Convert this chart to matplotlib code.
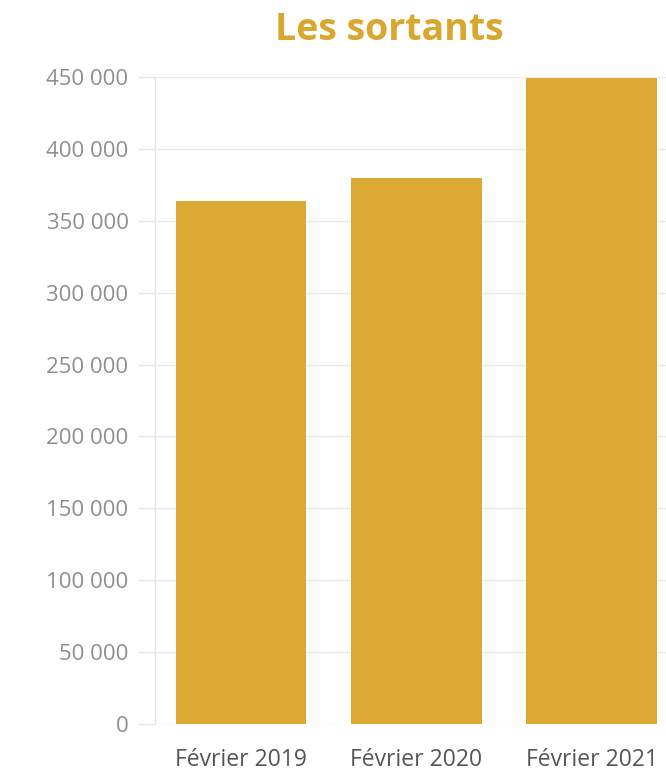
import matplotlib
matplotlib.use("Agg")
import matplotlib.pyplot as plt
from matplotlib.ticker import FuncFormatter, MultipleLocator

plt.rcParams["font.family"] = ["Open Sans", "DejaVu Sans"]

# --- données ---
mois = ["Février 2019", "Février 2020", "Février 2021"]
sortants = [364000, 379500, 449500]

BAR_COLOR = "#DCAA34"

fig = plt.figure(figsize=(6.66, 7.74), dpi=100)
ax = fig.add_axes([0.2327, 0.0646, 0.7905, 0.8359])

x = range(len(mois))
ax.bar(x, sortants, width=0.746, color=BAR_COLOR, zorder=3)

ax.set_xlim(-0.49, 2.51)
ax.set_ylim(0, 450000)
ax.yaxis.set_major_locator(MultipleLocator(50000))
ax.yaxis.set_major_formatter(FuncFormatter(lambda v, p: f"{int(v):,}".replace(",", " ")))

ax.set_xticks(list(x))
ax.set_xticklabels(mois)

# grille et axes
ax.grid(axis="y", color="#E9E9EE", linewidth=1, zorder=0)
for s in ["top", "right", "bottom"]:
    ax.spines[s].set_visible(False)
ax.spines["left"].set_color("#E6E6EE")
ax.spines["left"].set_linewidth(1)

ax.tick_params(axis="y", length=12, color="#E6E6EE", width=1, pad=7,
               labelsize=16, labelcolor="#8F8F8F")
ax.tick_params(axis="x", length=0, pad=17, labelsize=16.5, labelcolor="#555555")

fig.text(0.585, 0.948, "Les sortants", ha="center", va="baseline",
         fontsize=27, fontweight="bold", color="#D9A62E")

fig.savefig("out.png", dpi=100)
